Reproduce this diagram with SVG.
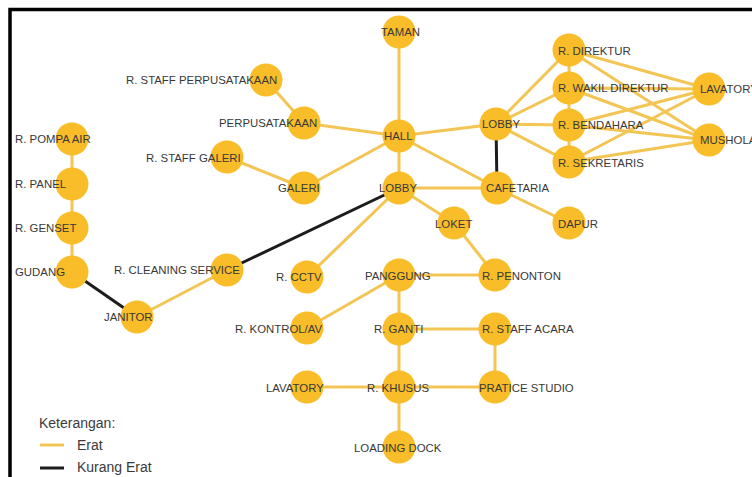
<svg xmlns="http://www.w3.org/2000/svg" width="752" height="477" viewBox="0 0 752 477">
<style>
.n{fill:#F8BD28;}
.t{font-family:"Liberation Sans",Arial,sans-serif;font-size:11.4px;fill:#383838;}
.e{stroke:#F3C554;stroke-width:3;fill:none;}
.k{stroke:#1c1c1c;stroke-width:3;fill:none;}
.lg{font-family:"Liberation Sans",Arial,sans-serif;font-size:14px;fill:#3a3a3a;}
</style>
<rect x="0" y="0" width="752" height="477" fill="#ffffff"/>
<path d="M10,477 V9.5 H752" stroke="#000" stroke-width="3.5" fill="none"/>
<g id="connectors">
<line class="e" x1="266" y1="80" x2="304" y2="123"/>
<line class="e" x1="304" y1="123" x2="399" y2="136"/>
<line class="e" x1="304" y1="188" x2="399" y2="136"/>
<line class="e" x1="227" y1="157" x2="304" y2="188"/>
<line class="e" x1="399" y1="32" x2="399" y2="136"/>
<line class="e" x1="399" y1="136" x2="399" y2="188"/>
<line class="e" x1="399" y1="136" x2="496" y2="124"/>
<line class="e" x1="399" y1="136" x2="497" y2="188"/>
<line class="e" x1="399" y1="188" x2="497" y2="188"/>
<line class="e" x1="399" y1="188" x2="454" y2="223"/>
<line class="e" x1="399" y1="188" x2="307" y2="277"/>
<line class="e" x1="497" y1="188" x2="569" y2="223"/>
<line class="e" x1="454" y1="223" x2="495" y2="275"/>
<line class="e" x1="496" y1="124" x2="569" y2="50"/>
<line class="e" x1="496" y1="124" x2="569" y2="88"/>
<line class="e" x1="496" y1="124" x2="569" y2="125"/>
<line class="e" x1="496" y1="124" x2="569" y2="162"/>
<line class="e" x1="569" y1="50" x2="569" y2="162"/>
<line class="e" x1="569" y1="50" x2="709" y2="89"/>
<line class="e" x1="569" y1="50" x2="709" y2="140"/>
<line class="e" x1="569" y1="88" x2="709" y2="89"/>
<line class="e" x1="569" y1="88" x2="709" y2="140"/>
<line class="e" x1="569" y1="125" x2="709" y2="89"/>
<line class="e" x1="569" y1="125" x2="709" y2="140"/>
<line class="e" x1="569" y1="162" x2="709" y2="89"/>
<line class="e" x1="569" y1="162" x2="709" y2="140"/>
<line class="e" x1="72" y1="139" x2="72" y2="272"/>
<line class="e" x1="137" y1="317" x2="227" y2="270"/>
<line class="e" x1="399" y1="275" x2="495" y2="275"/>
<line class="e" x1="399" y1="275" x2="307" y2="328"/>
<line class="e" x1="399" y1="275" x2="399" y2="447"/>
<line class="e" x1="399" y1="329" x2="495" y2="329"/>
<line class="e" x1="495" y1="329" x2="495" y2="387"/>
<line class="e" x1="307" y1="387" x2="495" y2="387"/>
<line class="k" x1="496" y1="124" x2="497" y2="188"/>
<line class="k" x1="399" y1="188" x2="227" y2="270"/>
<line class="k" x1="72" y1="272" x2="137" y2="317"/>
</g>
<g id="taman"><circle class="n" cx="399" cy="32" r="16.5"/><text class="t" x="381" y="36">TAMAN</text></g>
<g id="hall"><circle class="n" cx="399" cy="136" r="16.5"/><text class="t" x="384" y="140">HALL</text></g>
<g id="lobby-1"><circle class="n" cx="399" cy="188" r="16.5"/><text class="t" x="379" y="192">LOBBY</text></g>
<g id="lobby-2"><circle class="n" cx="496" cy="124" r="16.5"/><text class="t" x="482" y="128">LOBBY</text></g>
<g id="cafetaria"><circle class="n" cx="497" cy="188" r="16.5"/><text class="t" x="486" y="192">CAFETARIA</text></g>
<g id="loket"><circle class="n" cx="454" cy="223" r="16.5"/><text class="t" x="435" y="228">LOKET</text></g>
<g id="dapur"><circle class="n" cx="569" cy="223" r="16.5"/><text class="t" x="558" y="228">DAPUR</text></g>
<g id="r-direktur"><circle class="n" cx="569" cy="50" r="16.5"/><text class="t" x="558" y="55">R. DIREKTUR</text></g>
<g id="r-wakil-direktur"><circle class="n" cx="569" cy="88" r="16.5"/><text class="t" x="558" y="92">R. WAKIL DIREKTUR</text></g>
<g id="r-bendahara"><circle class="n" cx="569" cy="125" r="16.5"/><text class="t" x="558" y="129">R. BENDAHARA</text></g>
<g id="r-sekretaris"><circle class="n" cx="569" cy="162" r="16.5"/><text class="t" x="558" y="167">R. SEKRETARIS</text></g>
<g id="lavatory-1"><circle class="n" cx="709" cy="89" r="16.5"/><text class="t" x="700" y="93">LAVATORY</text></g>
<g id="mushola"><circle class="n" cx="709" cy="140" r="16.5"/><text class="t" x="700" y="144">MUSHOLA</text></g>
<g id="r-staff-perpusatakaan"><circle class="n" cx="266" cy="80" r="16.5"/><text class="t" x="126" y="84">R. STAFF PERPUSATAKAAN</text></g>
<g id="perpusatakaan"><circle class="n" cx="304" cy="123" r="16.5"/><text class="t" x="219" y="127">PERPUSATAKAAN</text></g>
<g id="r-staff-galeri"><circle class="n" cx="227" cy="157" r="16.5"/><text class="t" x="146" y="162">R. STAFF GALERI</text></g>
<g id="galeri"><circle class="n" cx="304" cy="188" r="16.5"/><text class="t" x="278" y="192">GALERI</text></g>
<g id="r-pompa-air"><circle class="n" cx="72" cy="139" r="16.5"/><text class="t" x="15" y="143">R. POMPA AIR</text></g>
<g id="r-panel"><circle class="n" cx="72" cy="184" r="16.5"/><text class="t" x="15" y="188">R. PANEL</text></g>
<g id="r-genset"><circle class="n" cx="72" cy="228" r="16.5"/><text class="t" x="15" y="232">R. GENSET</text></g>
<g id="gudang"><circle class="n" cx="72" cy="272" r="16.5"/><text class="t" x="15" y="276">GUDANG</text></g>
<g id="janitor"><circle class="n" cx="137" cy="317" r="16.5"/><text class="t" x="104" y="321">JANITOR</text></g>
<g id="r-cleaning-service"><circle class="n" cx="227" cy="270" r="16.5"/><text class="t" x="114" y="274">R. CLEANING SERVICE</text></g>
<g id="r-cctv"><circle class="n" cx="307" cy="277" r="16.5"/><text class="t" x="276" y="281">R. CCTV</text></g>
<g id="r-kontrol-av"><circle class="n" cx="307" cy="328" r="16.5"/><text class="t" x="235" y="333">R. KONTROL/AV</text></g>
<g id="lavatory-2"><circle class="n" cx="307" cy="387" r="16.5"/><text class="t" x="266" y="392">LAVATORY</text></g>
<g id="panggung"><circle class="n" cx="399" cy="275" r="16.5"/><text class="t" x="365" y="280">PANGGUNG</text></g>
<g id="r-penonton"><circle class="n" cx="495" cy="275" r="16.5"/><text class="t" x="482" y="280">R. PENONTON</text></g>
<g id="r-ganti"><circle class="n" cx="399" cy="329" r="16.5"/><text class="t" x="374" y="333">R. GANTI</text></g>
<g id="r-staff-acara"><circle class="n" cx="495" cy="329" r="16.5"/><text class="t" x="482" y="333">R. STAFF ACARA</text></g>
<g id="r-khusus"><circle class="n" cx="399" cy="387" r="16.5"/><text class="t" x="367" y="392">R. KHUSUS</text></g>
<g id="pratice-studio"><circle class="n" cx="495" cy="387" r="16.5"/><text class="t" x="479" y="392">PRATICE STUDIO</text></g>
<g id="loading-dock"><circle class="n" cx="399" cy="447" r="16.5"/><text class="t" x="354" y="452">LOADING DOCK</text></g>
<g id="legend">
<text class="lg" x="39" y="428">Keterangan:</text>
<line x1="40" y1="445" x2="64" y2="445" stroke="#F3C554" stroke-width="3"/>
<text class="lg" x="77" y="450">Erat</text>
<line x1="40" y1="468" x2="64" y2="468" stroke="#1c1c1c" stroke-width="3"/>
<text class="lg" x="77" y="472">Kurang Erat</text>
</g>
</svg>
